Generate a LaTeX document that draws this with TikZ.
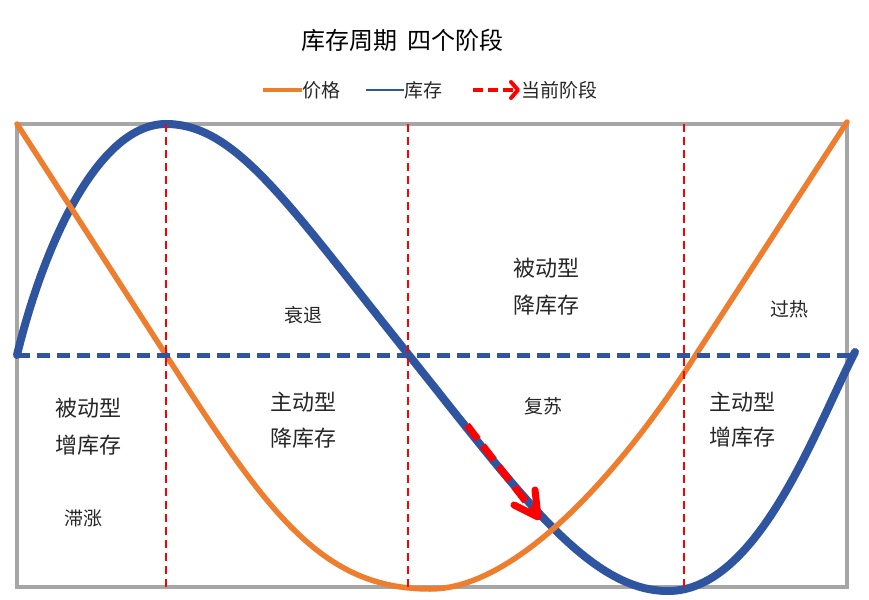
\documentclass[tikz,border=0pt]{standalone}
\usepackage{fontspec}
\setmainfont{Noto Sans CJK SC}
\definecolor{cblue}{HTML}{2F55A0}
\definecolor{corange}{HTML}{EE7D2D}
\definecolor{cgray}{HTML}{A6A6A6}
\definecolor{cred}{HTML}{FF0000}
\tikzset{
  framebox/.style={draw=cgray, line width=4},
  phaseline/.style={draw=cred, line width=2, dash pattern=on 8 off 5},
  midline/.style={draw=cblue, line width=5, dash pattern=on 13 off 7},
  invcurve/.style={draw=cblue, line width=8, line cap=round, line join=round},
  pricecurve/.style={draw=corange, line width=5.5, line cap=round, line join=round},
  curarrow/.style={draw=cred, line width=7},
  curhead/.style={draw=cred, line width=7, line cap=round, line join=round},
  lbig/.style={inner sep=0, font=\fontsize{22}{26}\selectfont, text=black!85},
  lsmall/.style={inner sep=0, font=\fontsize{19}{23}\selectfont, text=black!85},
  ttl/.style={inner sep=0, font=\fontsize{24}{28}\selectfont, text=black},
}
\begin{document}
\begin{tikzpicture}[x=1pt,y=-1pt]
\useasboundingbox (0,0) rectangle (869,599);
% frame
\draw[framebox] (17,124) rectangle (847,587);
% inventory curve
\draw[invcurve] (17,355) .. controls (45,240) and (100,124) .. (166,124)
  .. controls (236,124) and (288,204) .. (408,354)
  .. controls (518,491.5) and (588,591) .. (668,591)
  .. controls (758,591) and (815,429.6) .. (855,352);
% price curve
\draw[pricecurve] (17,124) -- (166,355)
  .. controls (266,510) and (320,589) .. (430,589)
  .. controls (520,589) and (627,463.4) .. (697,353) -- (847,122);
% zero line
\draw[midline] (17,355) -- (850,355);
% phase separators
\draw[phaseline] (166,124) -- (166,587);
\draw[phaseline] (408,124) -- (408,587);
\draw[phaseline] (684,124) -- (684,587);
% current phase arrow
\coordinate (cS) at (467,425);
\coordinate (cE) at (533,511);
\coordinate (cT) at (538,517);
\coordinate (cA) at (514,505);
\coordinate (cB) at (535,490);
\draw[curarrow, dash pattern=on 18 off 8] (cS) -- (cE);
\draw[curhead] (cA) -- (cT) -- (cB);
% title
\node[ttl] (title) at (402.5,40) {库存周期\hspace{0.45em}四个阶段};
% legend
\coordinate (l1a) at (263,90); \coordinate (l1b) at (302,90);
\draw[draw=corange, line width=4] (l1a) -- (l1b);
\node[lsmall, anchor=west] (lg1) at (302,90) {价格};
\coordinate (l2a) at (366,90); \coordinate (l2b) at (404,90);
\draw[draw=cblue, line width=2] (l2a) -- (l2b);
\node[lsmall, anchor=west] (lg2) at (404,90) {库存};
\coordinate (l3a) at (473,90); \coordinate (l3b) at (515,90);
\coordinate (l3t) at (518,90); \coordinate (l3u) at (511,82); \coordinate (l3d) at (511,98);
\draw[draw=cred, line width=4, dash pattern=on 10 off 5] (l3a) -- (l3b);
\draw[draw=cred, line width=4, line cap=round, line join=round] (l3u) -- (l3t) -- (l3d);
\node[lsmall, anchor=west] (lg3) at (521,90) {当前阶段};
% phase labels
\node[lsmall] (shuai) at (303,315) {衰退};
\node[lbig] (bj1) at (546,268) {被动型};
\node[lbig] (bj2) at (546,305) {降库存};
\node[lsmall] (guo) at (789,309) {过热};
\node[lbig] (bz1) at (88,408) {被动型};
\node[lbig] (bz2) at (88,445) {增库存};
\node[lsmall] (zhi) at (83,518) {滞涨};
\node[lbig] (zj1) at (303,402) {主动型};
\node[lbig] (zj2) at (303,438) {降库存};
\node[lsmall] (fu) at (543,406) {复苏};
\node[lbig] (zz1) at (742,402) {主动型};
\node[lbig] (zz2) at (742,437) {增库存};
\end{tikzpicture}
\end{document}
